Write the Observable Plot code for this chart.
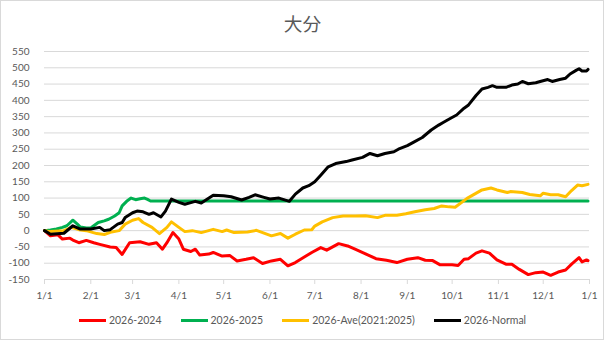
<!DOCTYPE html>
<html>
<head>
<meta charset="utf-8">
<script src="https://cdn.jsdelivr.net/npm/d3@7"></script>
<script src="https://cdn.jsdelivr.net/npm/@observablehq/plot@0.6"></script>
<style>
  body { margin: 0; background: #fff; }
  #chart { position: relative; width: 605px; height: 341px; overflow: hidden; background: #fff; font-family: Lato, sans-serif; }
  #frame { position: absolute; left: 0; top: 0; width: 604px; height: 340px; box-sizing: border-box; border: 1px solid #d9d9d9; }
  #title { position: absolute; left: 0; top: 14px; width: 605px; text-align: center; font-family: "Noto Sans CJK JP", sans-serif; font-size: 18.7px; line-height: 18.7px; color: #595959; }
  #plot { position: absolute; left: 0; top: 36px; }
  #legend { position: absolute; left: 0; top: 313px; width: 605px; display: flex; justify-content: center; gap: 19px; font-size: 10.5px; line-height: 14px; color: #595959; }
  .item { display: flex; align-items: center; }
  .sw { display: inline-block; width: 27px; height: 3px; margin-right: 3px; }
</style>
</head>
<body>
<div id="chart">
  <div id="frame"></div>
  <div id="title">大分</div>
  <div id="plot"></div>
  <div id="legend"></div>
</div>
<script>
// ---- data (dates as MM-DD in 2026, values) ----
const seriesNames = ["2026-2024", "2026-2025", "2026-Ave(2021:2025)", "2026-Normal"];
const seriesColors = ["#ff0000", "#00b050", "#ffc000", "#000000"];

const redDates = ["01-01","01-05","01-10","01-13","01-18","01-20","01-24","01-29","02-03","02-07","02-14","02-18","02-22","02-27","03-06","03-12","03-17","03-21","03-24","03-28","04-01","04-04","04-09","04-12","04-15","04-21","04-24","04-30","05-05","05-10","05-16","05-21","05-27","06-02","06-08","06-13","06-18","06-24","06-29","07-05","07-09","07-17","07-23","07-28","08-04","08-11","08-18","08-25","09-01","09-08","09-13","09-18","09-23","10-01","10-05","10-09","10-12","10-17","10-21","10-26","10-31","11-06","11-10","11-15","11-21","11-26","12-01","12-06","12-11","12-16","12-20","12-25","12-27","12-30","12-31"];
const redValues = [0,-16,-13,-26,-23,-29,-37,-30,-37,-42,-50,-52,-73,-37,-34,-42,-37,-57,-37,-6,-26,-57,-64,-57,-75,-72,-67,-78,-76,-93,-88,-83,-101,-93,-88,-108,-98,-81,-67,-52,-60,-40,-47,-57,-71,-86,-91,-98,-88,-83,-91,-92,-105,-105,-107,-88,-86,-69,-62,-69,-90,-103,-103,-119,-135,-129,-127,-137,-127,-121,-103,-83,-96,-90,-92];

const greenDates = ["01-01","01-05","01-09","01-13","01-16","01-20","01-23","01-25","01-29","02-01","02-03","02-06","02-10","02-13","02-17","02-20","02-22","02-25","02-28","03-03","03-06","03-09","03-11","03-13","12-31"];
const greenValues = [0,2,5,10,15,32,20,11,8,8,15,25,30,35,45,55,76,90,100,95,98,100,96,91,91];

const yellowDates = ["01-01","01-05","01-14","01-19","01-24","01-29","02-05","02-10","02-14","02-20","02-24","03-01","03-05","03-08","03-14","03-19","03-24","03-27","04-01","04-05","04-10","04-16","04-24","04-30","05-03","05-08","05-17","05-23","06-02","06-08","06-13","06-18","06-24","06-29","07-01","07-06","07-13","07-20","07-28","08-04","08-12","08-17","08-25","08-31","09-06","09-13","09-19","09-24","09-29","10-03","10-11","10-21","10-27","10-31","11-07","11-09","11-17","11-22","11-29","12-01","12-06","12-11","12-16","12-20","12-24","12-27","12-31"];
const yellowValues = [0,-3,0,10,3,0,-9,-12,-5,0,20,32,37,25,10,-9,10,27,10,-3,0,-6,4,-3,2,-6,-4,1,-16,-9,-23,-11,2,3,14,27,40,45,45,46,40,47,47,52,58,64,68,76,73,72,99,125,131,125,117,120,117,111,107,115,110,110,104,123,140,138,142];

const blackDates = ["01-01","01-05","01-14","01-20","01-25","02-01","02-07","02-10","02-14","02-19","02-22","02-24","03-01","03-04","03-08","03-12","03-15","03-20","03-23","03-27","04-01","04-05","04-09","04-12","04-16","04-24","05-01","05-06","05-13","05-18","05-22","05-28","06-01","06-07","06-14","06-18","06-23","06-27","07-01","07-05","07-10","07-15","07-22","07-26","08-02","08-07","08-12","08-17","08-23","08-26","09-01","09-05","09-11","09-17","09-22","09-25","09-30","10-04","10-09","10-12","10-17","10-21","10-25","10-28","10-31","11-06","11-10","11-14","11-17","11-21","11-26","11-29","12-04","12-07","12-12","12-16","12-19","12-23","12-25","12-27","12-30","12-31"];
const blackValues = [0,-11,-8,15,5,5,10,0,3,20,25,40,55,60,58,50,55,42,60,97,87,81,86,90,85,109,107,104,94,102,110,102,97,100,90,112,131,138,150,170,196,206,212,217,225,237,230,237,242,250,261,271,286,309,324,332,345,355,376,386,415,435,440,445,440,440,447,450,458,451,454,458,464,458,464,468,481,492,497,490,490,495];

const yTicks = [-150,-100,-50,0,50,100,150,200,250,300,350,400,450,500,550];
const xTickLabels = ["1/1","2/1","3/1","4/1","5/1","6/1","7/1","8/1","9/1","10/1","11/1","12/1","1/1"];

// ---- build ----
const parse = s => new Date("2026-" + s + "T00:00:00Z");
const build = (dates, values) => dates.map((d, i) => ({date: parse(d), value: values[i]}));
const allSeries = [
  build(redDates, redValues),
  build(greenDates, greenValues),
  build(yellowDates, yellowValues),
  build(blackDates, blackValues)
];
const xTicks = d3.utcMonths(new Date(Date.UTC(2026,0,1)), new Date(Date.UTC(2027,0,2)));

const chart = Plot.plot({
  width: 605,
  height: 273,
  marginLeft: 44,
  marginRight: 16,
  marginTop: 15,
  marginBottom: 30,
  style: {fontFamily: "Lato, sans-serif", fontSize: "10px", color: "#595959", background: "transparent", overflow: "visible"},
  x: {type: "utc", domain: [new Date(Date.UTC(2026,0,1)), new Date(Date.UTC(2027,0,1))]},
  y: {domain: [-150, 550]},
  marks: [
    Plot.gridY(yTicks, {stroke: "#d9d9d9", strokeOpacity: 1, strokeWidth: 1}),
    Plot.axisY({ticks: yTicks, tickSize: 0, tickPadding: 15, tickFormat: d => String(d), fill: "#595959", label: null}),
    Plot.axisX({ticks: xTicks, tickSize: 5, tickPadding: 7, tickFormat: (d, i) => xTickLabels[i], stroke: "#d9d9d9", strokeOpacity: 1, fill: "#595959", label: null}),
    ...allSeries.map((data, i) => Plot.line(data, {x: "date", y: "value", stroke: seriesColors[i], strokeWidth: 3, strokeLinejoin: "round", strokeLinecap: "round"}))
  ]
});
document.getElementById("plot").appendChild(chart);

// ---- legend ----
const legend = document.getElementById("legend");
seriesNames.forEach((name, i) => {
  const item = document.createElement("div");
  item.className = "item";
  const sw = document.createElement("span");
  sw.className = "sw";
  sw.style.background = seriesColors[i];
  const label = document.createElement("span");
  label.textContent = name;
  item.appendChild(sw);
  item.appendChild(label);
  legend.appendChild(item);
});
</script>
</body>
</html>
